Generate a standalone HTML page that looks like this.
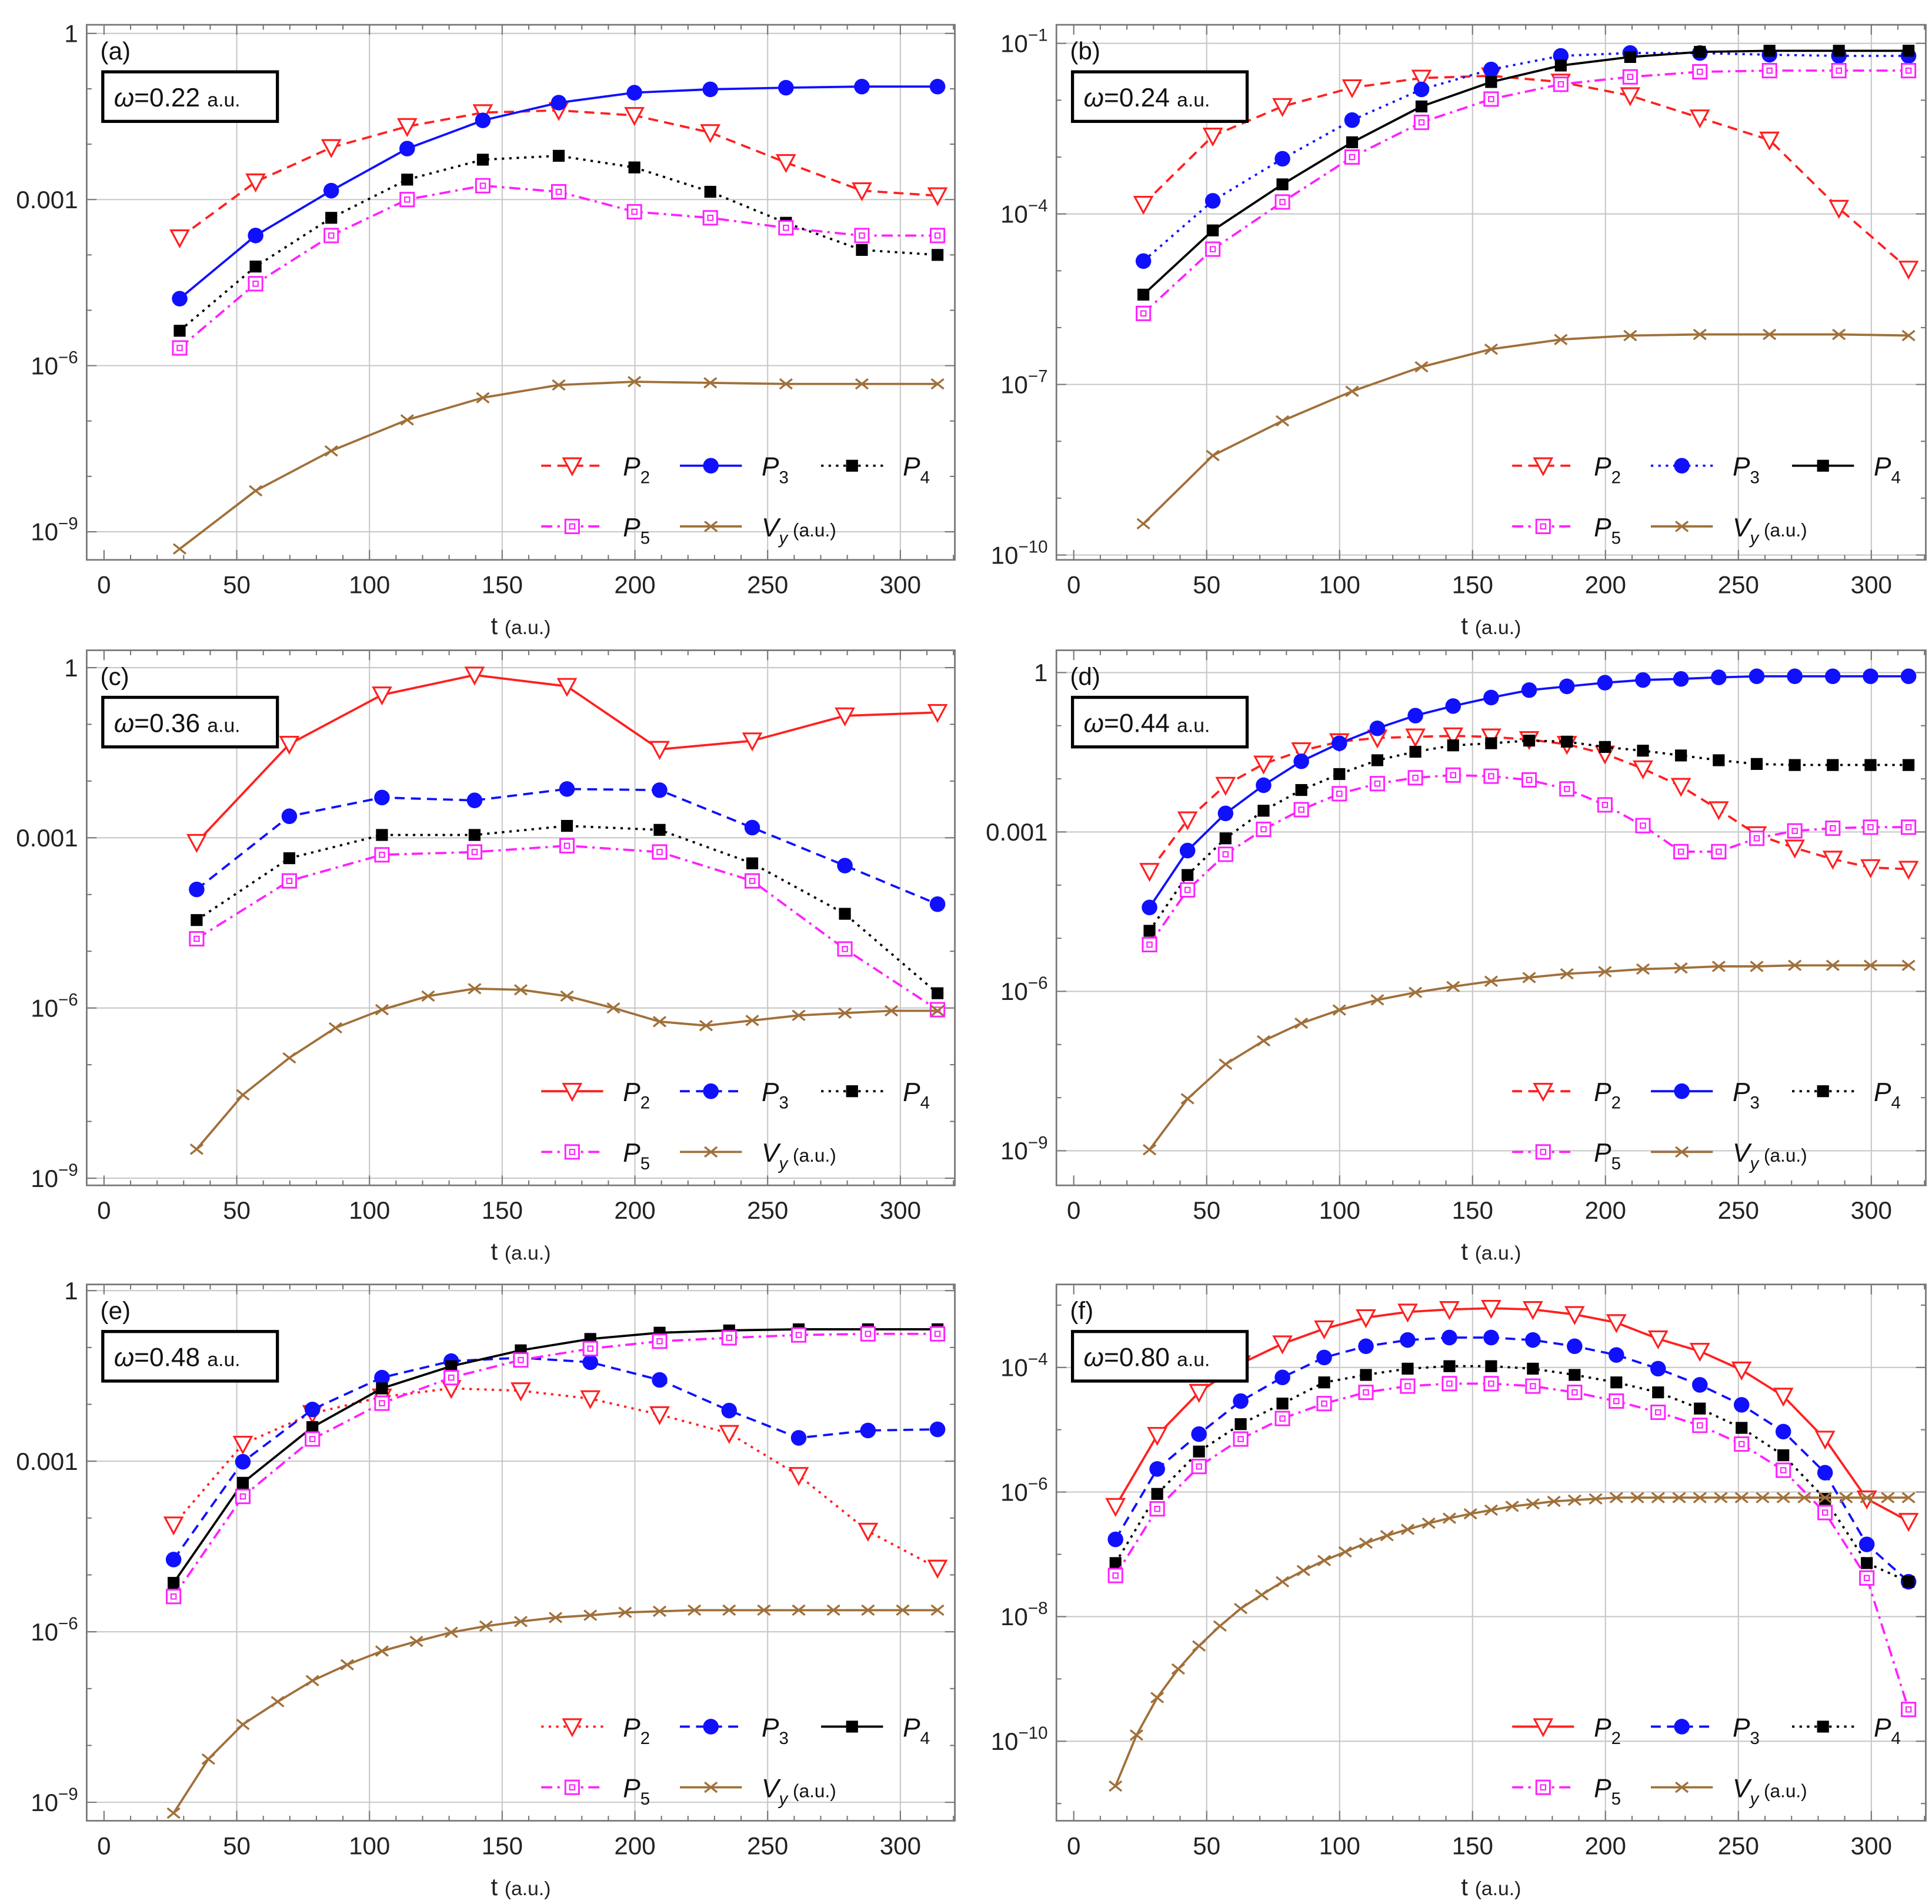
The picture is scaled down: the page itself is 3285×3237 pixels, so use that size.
<!DOCTYPE html>
<html><head><meta charset="utf-8"><style>
html,body{margin:0;padding:0;background:#fff;}
svg{display:block;font-family:"Liberation Sans",sans-serif;}
</style></head><body>
<svg id="fig" width="3285" height="3237" viewBox="0 0 1560 1537.2" preserveAspectRatio="none" xmlns="http://www.w3.org/2000/svg"></svg>
<script>
// ---- Panel (a) data: log10 values ----
const aT=[28.5,57.1,85.6,114.2,142.7,171.3,199.8,228.4,256.9,285.5,314];
const aP2=[-3.69,-2.68,-2.06,-1.68,-1.43,-1.39,-1.48,-1.79,-2.33,-2.84,-2.93];
const aP3=[-4.79,-3.65,-2.84,-2.08,-1.57,-1.25,-1.07,-1.01,-0.98,-0.96,-0.96];
const aP4=[-5.37,-4.21,-3.33,-2.64,-2.28,-2.21,-2.42,-2.86,-3.42,-3.91,-4.0];
const aP5=[-5.68,-4.52,-3.65,-3.0,-2.75,-2.86,-3.22,-3.33,-3.51,-3.65,-3.65];
const aVy=[-9.31,-8.26,-7.54,-6.98,-6.58,-6.35,-6.29,-6.31,-6.33,-6.33,-6.33];
// ---- Panel (b) ----
const bT=[26.2,52.3,78.5,104.7,130.8,157,183.2,209.3,235.5,261.7,287.8,314];
const bP2=[-3.83,-2.63,-2.11,-1.78,-1.61,-1.57,-1.68,-1.92,-2.31,-2.70,-3.90,-4.97];
const bP3=[-4.83,-3.77,-3.03,-2.35,-1.81,-1.46,-1.22,-1.17,-1.17,-1.20,-1.22,-1.22];
const bP4=[-5.42,-4.29,-3.48,-2.74,-2.11,-1.68,-1.39,-1.24,-1.15,-1.13,-1.13,-1.13];
const bP5=[-5.75,-4.62,-3.79,-3.0,-2.39,-1.98,-1.72,-1.59,-1.50,-1.48,-1.48,-1.48];
const bVy=[-9.45,-8.25,-7.64,-7.12,-6.69,-6.38,-6.21,-6.14,-6.12,-6.12,-6.12,-6.14];
// ---- Panel (c) ----
const cT=[34.9,69.8,104.7,139.6,174.4,209.3,244.2,279.1,314];
const cP2=[-3.08,-1.35,-0.48,-0.13,-0.33,-1.44,-1.29,-0.85,-0.79];
const cP3=[-3.91,-2.62,-2.29,-2.34,-2.14,-2.16,-2.82,-3.49,-4.17];
const cP4=[-4.45,-3.36,-2.95,-2.95,-2.79,-2.86,-3.45,-4.34,-5.74];
const cP5=[-4.78,-3.76,-3.30,-3.25,-3.14,-3.25,-3.76,-4.96,-6.03];
const cVyT=[34.9,52.3,69.8,87.2,104.7,122.1,139.6,157,174.4,191.9,209.3,226.8,244.2,261.7,279.1,296.6,314];
const cVy=[-8.49,-7.53,-6.88,-6.35,-6.03,-5.79,-5.66,-5.68,-5.79,-6.0,-6.24,-6.31,-6.22,-6.13,-6.09,-6.05,-6.05];
// ---- Panel (d) ----
const dT=[28.5,42.8,57.1,71.4,85.6,99.9,114.2,128.5,142.7,157,171.3,185.5,199.8,214.1,228.4,242.6,256.9,271.2,285.5,299.7,314];
const dP2=[-3.74,-2.77,-2.12,-1.72,-1.47,-1.30,-1.23,-1.21,-1.19,-1.21,-1.26,-1.35,-1.53,-1.81,-2.14,-2.58,-3.05,-3.30,-3.51,-3.67,-3.70];
const dP3=[-4.42,-3.35,-2.65,-2.12,-1.67,-1.33,-1.05,-0.81,-0.63,-0.47,-0.33,-0.26,-0.19,-0.14,-0.12,-0.09,-0.07,-0.07,-0.07,-0.07,-0.07];
const dP4=[-4.86,-3.81,-3.12,-2.60,-2.21,-1.91,-1.65,-1.49,-1.37,-1.33,-1.28,-1.30,-1.40,-1.47,-1.56,-1.65,-1.72,-1.74,-1.74,-1.74,-1.74];
const dP5=[-5.12,-4.09,-3.42,-2.95,-2.58,-2.28,-2.09,-1.98,-1.93,-1.95,-2.02,-2.19,-2.49,-2.88,-3.37,-3.37,-3.12,-2.98,-2.93,-2.91,-2.91];
const dVy=[-8.98,-8.02,-7.37,-6.93,-6.60,-6.35,-6.16,-6.02,-5.91,-5.81,-5.74,-5.67,-5.63,-5.58,-5.56,-5.53,-5.53,-5.51,-5.51,-5.51,-5.51];
// ---- Panel (e) ----
const eT=[26.2,52.3,78.5,104.7,130.8,157,183.2,209.3,235.5,261.7,287.8,314];
const eP2=[-4.12,-2.70,-2.16,-1.87,-1.72,-1.76,-1.90,-2.18,-2.51,-3.25,-4.23,-4.88];
const eP3=[-4.73,-3.01,-2.09,-1.53,-1.24,-1.18,-1.26,-1.57,-2.11,-2.59,-2.46,-2.44];
const eP4=[-5.14,-3.38,-2.40,-1.72,-1.33,-1.05,-0.85,-0.74,-0.70,-0.68,-0.68,-0.68];
const eP5=[-5.38,-3.62,-2.61,-1.98,-1.53,-1.22,-1.02,-0.89,-0.83,-0.78,-0.76,-0.76];
const eVyT=[26.2,39.3,52.3,65.4,78.5,91.6,104.7,117.7,130.8,143.9,157,170.1,183.2,196.3,209.3,222.4,235.5,248.6,261.7,274.8,287.8,300.9,314];
const eVy=[-9.19,-8.24,-7.63,-7.23,-6.86,-6.58,-6.34,-6.17,-6.01,-5.90,-5.82,-5.75,-5.71,-5.66,-5.64,-5.62,-5.62,-5.62,-5.62,-5.62,-5.62,-5.62,-5.62];
// ---- Panel (f) ----
const fT=[15.7,31.4,47.1,62.8,78.5,94.2,109.9,125.6,141.3,157,172.7,188.4,204.1,219.8,235.5,251.2,266.9,282.6,298.3,314];
const fP2=[-6.23,-5.09,-4.40,-3.94,-3.62,-3.38,-3.20,-3.11,-3.07,-3.05,-3.07,-3.15,-3.28,-3.54,-3.74,-4.04,-4.46,-5.15,-6.11,-6.47];
const fP3=[-6.76,-5.63,-5.07,-4.54,-4.16,-3.84,-3.66,-3.56,-3.52,-3.52,-3.56,-3.66,-3.80,-4.02,-4.28,-4.60,-5.03,-5.69,-6.84,-7.44];
const fP4=[-7.14,-6.03,-5.35,-4.91,-4.58,-4.24,-4.12,-4.02,-3.98,-3.98,-4.02,-4.12,-4.24,-4.40,-4.66,-4.97,-5.41,-6.11,-7.14,-7.44];
const fP5=[-7.34,-6.27,-5.59,-5.15,-4.82,-4.58,-4.40,-4.30,-4.26,-4.26,-4.30,-4.40,-4.54,-4.72,-4.93,-5.23,-5.65,-6.33,-7.38,-9.49];
const fVyT=[15.7,23.6,31.4,39.3,47.1,55,62.8,70.7,78.5,86.4,94.2,102.1,109.9,117.8,125.6,133.5,141.3,149.2,157,164.9,172.7,180.6,188.4,196.3,204.1,212,219.8,227.7,235.5,243.4,251.2,259.1,266.9,274.8,282.6,290.5,298.3,306.2,314];
const fVy=[-10.72,-9.90,-9.30,-8.84,-8.47,-8.15,-7.87,-7.65,-7.44,-7.26,-7.10,-6.96,-6.82,-6.70,-6.60,-6.50,-6.42,-6.35,-6.29,-6.23,-6.19,-6.15,-6.13,-6.11,-6.09,-6.09,-6.09,-6.09,-6.09,-6.09,-6.09,-6.09,-6.09,-6.09,-6.09,-6.09,-6.09,-6.09,-6.09];
const xTicks=[0,50,100,150,200,250,300];

const NS="http://www.w3.org/2000/svg";
const svg=document.getElementById('fig');
function mk(tag,attrs,parent){const e=document.createElementNS(NS,tag);for(const k in attrs)e.setAttribute(k,attrs[k]);(parent||svg).appendChild(e);return e;}
const DASH={solid:null,dashed:"8,5",dotted:"2,4",dashdot:"9,4,2,4"};
const COL={P2:"#ff2020",P3:"#1010ff",P4:"#000",P5:"#ff20ff",Vy:"#a0703a"};

function marker(g,kind,x,y){
  if(kind==='P2'){return mk('polygon',{points:`${x-7},${y-6} ${x+7},${y-6} ${x},${y+7}`,fill:'#fff',stroke:COL.P2,'stroke-width':1.5},g);}
  if(kind==='P3'){return mk('circle',{cx:x,cy:y,r:6.3,fill:COL.P3},g);}
  if(kind==='P4'){return mk('rect',{x:x-4.8,y:y-4.8,width:9.6,height:9.6,fill:'#000'},g);}
  if(kind==='P5'){const gg=mk('g',{},g);mk('rect',{x:x-5.5,y:y-5.5,width:11,height:11,fill:'#fff',stroke:COL.P5,'stroke-width':1.4},gg);mk('rect',{x:x-2,y:y-2,width:4,height:4,fill:'none',stroke:COL.P5,'stroke-width':1},gg);return gg;}
  const gg=mk('g',{stroke:COL.Vy,'stroke-width':1.6},g);
  mk('line',{x1:x-5,y1:y-4,x2:x+5,y2:y+4},gg);mk('line',{x1:x-5,y1:y+4,x2:x+5,y2:y-4},gg);return gg;
}

function panel(cfg){
  const g=mk('g',{});
  
  
  const X=t=>cfg.tx0+(cfg.tx300-cfg.tx0)*t/300;
  const Y=l=>cfg.yRef-(l-cfg.lRef)*cfg.dec;
  const f=cfg.frame;
  // grid
  const grid=mk('g',{stroke:'#c8c8c8','stroke-width':1},g);
  
  
  xTicks.forEach(t=>{if(t>0)mk('line',{x1:X(t),x2:X(t),y1:f[1],y2:f[3]},grid);});
  cfg.yTicks.forEach(l=>mk('line',{x1:f[0],x2:f[2],y1:Y(l),y2:Y(l)},grid));
  // frame
  const fr=mk('rect',{x:f[0],y:f[1],width:f[2]-f[0],height:f[3]-f[1],fill:'none',stroke:'#777','stroke-width':1.3},g);
  
  
  // minor ticks
  const tk=mk('g',{stroke:'#777','stroke-width':1},g);
  for(let t=0;t<=320;t+=10){const x=X(t);if(x<f[2]){const L=t%50===0?8:4;mk('line',{x1:x,x2:x,y1:f[3],y2:f[3]-L},tk);mk('line',{x1:x,x2:x,y1:f[1],y2:f[1]+L},tk);}}
  for(let l=Math.ceil(cfg.lMin);l<=Math.floor(cfg.lMax);l++){const y=Y(l);if(y>f[1]&&y<f[3]){const L=cfg.yTicks.includes(l)?8:4;mk('line',{x1:f[0],x2:f[0]+L,y1:y,y2:y},tk);mk('line',{x1:f[2],x2:f[2]-L,y1:y,y2:y},tk);}}
  // x tick labels
  xTicks.forEach(t=>{const e=mk('text',{x:X(t),y:f[3]+27,'text-anchor':'middle','font-size':20,fill:'#222'},g);e.textContent=t;
    
    });
  const xt=mk('text',{x:(f[0]+f[2])/2,y:f[3]+60,'text-anchor':'middle','font-size':20,fill:'#222'},g);
  xt.innerHTML='t <tspan font-size="16">(a.u.)</tspan>';
  
  
  // y tick labels
  cfg.yTicks.forEach((l,i)=>{const lab=cfg.yLabels[i];const e=mk('text',{x:f[0]-7,y:Y(l)+7,'text-anchor':'end','font-size':20,fill:'#222'},g);
    if(typeof lab==='number'){e.innerHTML='10<tspan font-size="14" dy="-9">\u2212'+lab+'</tspan>';}else e.textContent=lab;
    
    });
  // series
  cfg.series.forEach(s=>{
    const sg=mk('g',{},g);
    
    
    const pts=s.t.map((t,i)=>X(t).toFixed(1)+','+Y(s.v[i]).toFixed(1)).join(' ');
    const a={points:pts,fill:'none',stroke:COL[s.k],'stroke-width':1.8,'stroke-linejoin':'round'};
    if(DASH[s.d])a['stroke-dasharray']=DASH[s.d];
    mk('polyline',a,sg);
    s.t.forEach((t,i)=>marker(sg,s.k,X(t),Y(s.v[i])));
  });
  // label & omega box
  const pl=mk('text',{x:f[0]+11,y:f[1]+28,'font-size':20,fill:'#111'},g);pl.textContent='('+cfg.id+')';
  
  
  const bx=mk('g',{},g);
  
  
  mk('rect',{x:f[0]+13,y:f[1]+38,width:141,height:40,fill:'#fff',stroke:'#000','stroke-width':2.5},bx);
  const ot=mk('text',{x:f[0]+22,y:f[1]+66,'font-size':21,fill:'#111'},bx);
  ot.innerHTML='<tspan font-style="italic">\u03c9</tspan>=0.'+cfg.w+' <tspan font-size="16">a.u.</tspan>';
  // legend
  const lg=mk('g',{},g);
  
  
  const ly1=f[3]-76,ly2=f[3]-27,lx=f[2]-334;
  const pos={P2:[lx,ly1],P3:[lx+112,ly1],P4:[lx+226,ly1],P5:[lx,ly2],Vy:[lx+112,ly2]};
  cfg.series.forEach(s=>{const [x,y]=pos[s.k];
    const a={x1:x,x2:x+50,y1:y,y2:y,stroke:COL[s.k],'stroke-width':1.8};if(DASH[s.d])a['stroke-dasharray']=DASH[s.d];
    mk('line',a,lg);marker(lg,s.k,x+25,y);
    const tx=mk('text',{x:x+66,y:y+8,'font-size':21,fill:'#111'},lg);
    if(s.k==='Vy')tx.innerHTML='<tspan font-style="italic">V</tspan><tspan font-size="14" dy="6" font-style="italic">y</tspan><tspan font-size="15" dy="-6"> (a.u.)</tspan>';
    else tx.innerHTML='<tspan font-style="italic">P</tspan><tspan font-size="14" dy="6">'+s.k[1]+'</tspan>';
    
    
  });
}
const L=[70,771],R=[853,1555];
panel({id:'a',w:'22',frame:[L[0],20,L[1],452],tx0:84,tx300:727,yRef:27,lRef:0,dec:44.7,lMin:-9.4,lMax:0,yTicks:[0,-3,-6,-9],yLabels:['1','0.001',6,9],
 series:[{k:'P2',d:'dashed',t:aT,v:aP2},{k:'P3',d:'solid',t:aT,v:aP3},{k:'P4',d:'dotted',t:aT,v:aP4},{k:'P5',d:'dashdot',t:aT,v:aP5},{k:'Vy',d:'solid',t:aT,v:aVy}]});
panel({id:'b',w:'24',frame:[R[0],20,R[1],452],tx0:867,tx300:1511,yRef:35,lRef:-1,dec:45.9,lMin:-10,lMax:-1,yTicks:[-1,-4,-7,-10],yLabels:[1,4,7,10],
 series:[{k:'P2',d:'dashed',t:bT,v:bP2},{k:'P3',d:'dotted',t:bT,v:bP3},{k:'P4',d:'solid',t:bT,v:bP4},{k:'P5',d:'dashdot',t:bT,v:bP5},{k:'Vy',d:'solid',t:bT,v:bVy}]});
panel({id:'c',w:'36',frame:[L[0],525,L[1],957],tx0:84,tx300:727,yRef:539,lRef:0,dec:45.8,lMin:-9,lMax:0,yTicks:[0,-3,-6,-9],yLabels:['1','0.001',6,9],
 series:[{k:'P2',d:'solid',t:cT,v:cP2},{k:'P3',d:'dashed',t:cT,v:cP3},{k:'P4',d:'dotted',t:cT,v:cP4},{k:'P5',d:'dashdot',t:cT,v:cP5},{k:'Vy',d:'solid',t:cVyT,v:cVy}]});
panel({id:'d',w:'44',frame:[R[0],525,R[1],957],tx0:867,tx300:1511,yRef:543,lRef:0,dec:42.9,lMin:-9.5,lMax:0,yTicks:[0,-3,-6,-9],yLabels:['1','0.001',6,9],
 series:[{k:'P2',d:'dashed',t:dT,v:dP2},{k:'P3',d:'solid',t:dT,v:dP3},{k:'P4',d:'dotted',t:dT,v:dP4},{k:'P5',d:'dashdot',t:dT,v:dP5},{k:'Vy',d:'solid',t:dT,v:dVy}]});
panel({id:'e',w:'48',frame:[L[0],1037,L[1],1470],tx0:84,tx300:727,yRef:1042,lRef:0,dec:45.9,lMin:-9.3,lMax:0,yTicks:[0,-3,-6,-9],yLabels:['1','0.001',6,9],
 series:[{k:'P2',d:'dotted',t:eT,v:eP2},{k:'P3',d:'dashed',t:eT,v:eP3},{k:'P4',d:'solid',t:eT,v:eP4},{k:'P5',d:'dashdot',t:eT,v:eP5},{k:'Vy',d:'solid',t:eVyT,v:eVy}]});
panel({id:'f',w:'80',frame:[R[0],1037,R[1],1470],tx0:867,tx300:1511,yRef:1104,lRef:-4,dec:50.3,lMin:-11,lMax:-2.7,yTicks:[-4,-6,-8,-10],yLabels:[4,6,8,10],
 series:[{k:'P2',d:'solid',t:fT,v:fP2},{k:'P3',d:'dashed',t:fT,v:fP3},{k:'P4',d:'dotted',t:fT,v:fP4},{k:'P5',d:'dashdot',t:fT,v:fP5},{k:'Vy',d:'solid',t:fVyT,v:fVy}]});
</script>
</body></html>
